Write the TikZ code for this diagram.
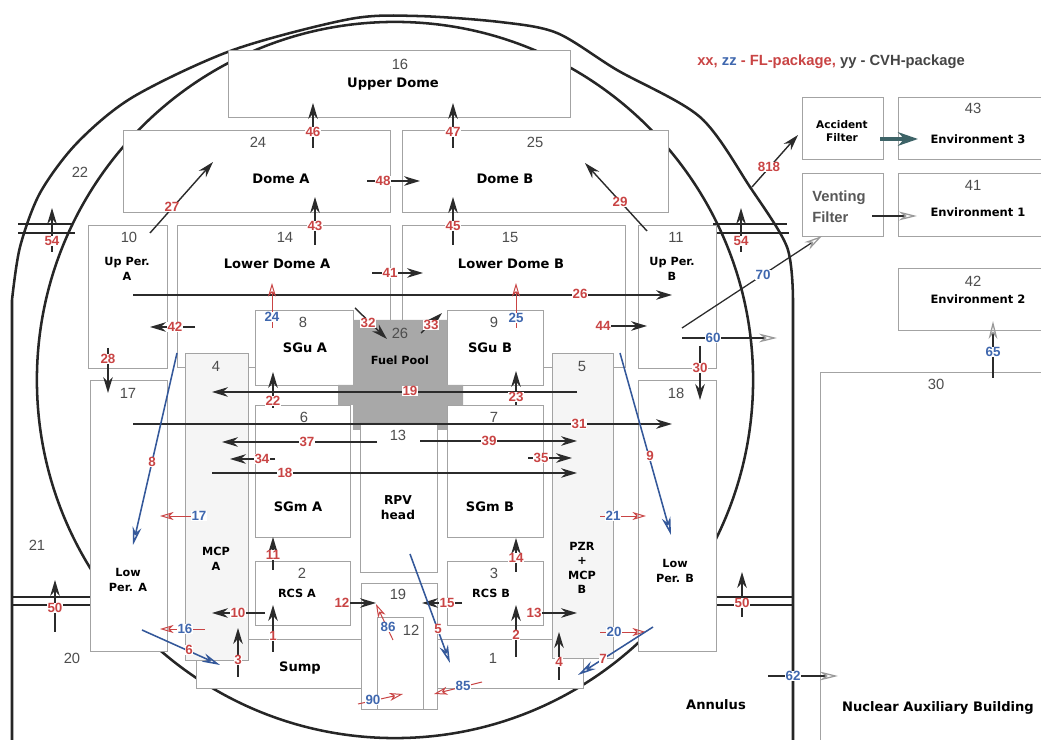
\documentclass[tikz,border=0pt]{standalone}
\usepackage{fontspec}
\setmainfont{DejaVu Sans}
\newfontfamily\arialf{Liberation Sans}
\usepackage{tikz}
\usetikzlibrary{arrows.meta}
\definecolor{redlab}{HTML}{C94444}
\definecolor{bluelab}{HTML}{3F67AE}
\definecolor{blueln}{HTML}{34589A}
\definecolor{roomgray}{HTML}{A3A3A3}
\definecolor{numgray}{HTML}{4D4D4D}
\definecolor{poolgray}{HTML}{A8A8A8}
\definecolor{mcpfill}{HTML}{F5F5F5}
\definecolor{arrowblk}{HTML}{2B2B2B}
\definecolor{headgray}{HTML}{9A9A9A}
\definecolor{filtteal}{HTML}{3D6367}
\definecolor{legdark}{HTML}{454545}

\begin{document}
\begin{tikzpicture}[x=0.025cm,y=-0.025cm,
  wall/.style={line width=1.8pt,black!85},
  room/.style={draw=roomgray,line width=0.6pt,fill=white},
  rnum/.style={font=\arialf\fontsize{10.5}{12}\selectfont,text=numgray,inner sep=0pt},
  rname/.style={font=\bfseries\fontsize{9.3}{11}\selectfont,align=center,inner sep=0pt},
  rsmall/.style={font=\bfseries\fontsize{8}{10.3}\selectfont,align=center,inner sep=0pt},
  envt/.style={font=\bfseries\fontsize{8.2}{9.4}\selectfont,align=center,inner sep=0pt},
  rl/.style={font=\arialf\bfseries\fontsize{9.5}{10}\selectfont,text=redlab,fill=white,inner sep=0.5pt},
  bl/.style={rl,text=bluelab},
  cvh/.style={-{Stealth[length=4mm,width=2.4mm,inset=1.3mm]},line width=1pt,arrowblk},
  flr/.style={-{Stealth[open,length=3.4mm,width=2mm,inset=1mm]},line width=0.7pt,redlab},
  flb/.style={-{Stealth[open,length=4.5mm,width=2.2mm,inset=1.4mm]},line width=1.1pt,blueln},
  flg/.style={-{Stealth[open,length=4.5mm,width=2.2mm,inset=1.4mm,color=headgray]},line width=0.9pt,arrowblk},
]
\useasboundingbox (0,0) rectangle (1042,740);

% containment walls
\draw[wall] (12,740) -- plot[smooth] coordinates {(12,300) (20,247) (40,193) (77,143) (133,97) (233,50) (350,19) (417,16) (500,22) (557,33) (617,70) (700,117) (750,187) (787,247) (793,300)} -- (793,740);
\draw[wall] (395,380) circle[radius=8.95cm];
\draw[wall,line width=1.2pt] (18,224) -- (73,224) (18,233) -- (75,233)
  (713,224) -- (787,224) (713,233) -- (789,233)
  (12,597) -- (90,597) (12,605) -- (90,605)
  (716,597) -- (793,597) (716,605) -- (793,605);

% rooms
\draw[room] (228,50) rectangle (570,117);
\draw[room] (123,130) rectangle (390,212);
\draw[room] (402,130) rectangle (668,212);
\draw[room] (88,225) rectangle (167,368);
\draw[room] (177,225) rectangle (390,367);
\draw[room] (402,225) rectangle (625,367);
\draw[room] (638,225) rectangle (716,368);
\draw[room] (90,380) rectangle (167,651);
\draw[room] (638,380) rectangle (716,651);
\draw[room] (196,639) rectangle (361,688);
\draw[room] (437,639) rectangle (583,688);
\draw[room,fill=mcpfill] (185,353) rectangle (248,660);
\draw[room,fill=mcpfill] (552,353) rectangle (613,658);
\draw[room] (255,310) rectangle (353,385);
\draw[room] (447,310) rectangle (543,385);
\fill[poolgray] (353,320) -- (447,320) -- (447,385) -- (463,385) -- (463,405) -- (447,405)
  -- (447,430) -- (353,430) -- (353,405) -- (338,405) -- (338,385) -- (353,385) -- cycle;
\draw[room] (255,405) rectangle (350,537);
\draw[room] (447,405) rectangle (543,537);
\draw[room] (360,422) rectangle (437,572);
\draw[room] (255,561) rectangle (350,625);
\draw[room] (447,561) rectangle (543,625);
\draw[room] (361,583) rectangle (437,709);
\draw[room] (377,617) rectangle (423,709);
\draw[room] (802,97) rectangle (883,159);
\draw[room] (1041,97) -- (898,97) -- (898,159) -- (1041,159);
\draw[room] (802,173) rectangle (883,236);
\draw[room] (1041,173) -- (898,173) -- (898,236) -- (1041,236);
\draw[room] (1041,268) -- (898,268) -- (898,330) -- (1041,330);
\draw[room,fill=none] (820,740) -- (820,372) -- (1041,372);

% room numbers
\node[rnum] (n16) at (400,64) {16};
\node[rnum] (n24) at (258,142) {24};
\node[rnum] (n25) at (535,142) {25};
\node[rnum] (n22) at (80,172) {22};
\node[rnum] (n10) at (129,237) {10};
\node[rnum] (n14) at (285,237) {14};
\node[rnum] (n15) at (510,237) {15};
\node[rnum] (n11) at (676,237) {11};
\node[rnum] (n8) at (303,322) {8};
\node[rnum] (n26) at (400,333) {26};
\node[rnum] (n9) at (494,322) {9};
\node[rnum] (n4) at (216,366) {4};
\node[rnum] (n5) at (582,366) {5};
\node[rnum] (n17) at (128,393) {17};
\node[rnum] (n18) at (676,393) {18};
\node[rnum] (n6) at (304,417) {6};
\node[rnum] (n7) at (494,417) {7};
\node[rnum] (n13) at (398,435) {13};
\node[rnum] (n2) at (302,573) {2};
\node[rnum] (n3) at (494,573) {3};
\node[rnum] (n19) at (398,594) {19};
\node[rnum] (n12) at (411,630) {12};
\node[rnum] (n1) at (493,658) {1};
\node[rnum] (n20) at (72,658) {20};
\node[rnum] (n21) at (37,545) {21};
\node[rnum] (n30) at (936,384) {30};
\node[rnum] (n43) at (973,108) {43};
\node[rnum] (n41) at (973,185) {41};
\node[rnum] (n42) at (973,281) {42};

% room names
\node[rname] (tUD) at (393,84) {Upper Dome};
\node[rname] (tDA) at (281,179) {Dome A};
\node[rname] (tDB) at (505,179) {Dome B};
\node[rsmall] (tUPA) at (127,269) {Up Per.\\A};
\node[rname] (tLDA) at (277,264) {Lower Dome A};
\node[rname] (tLDB) at (511,264) {Lower Dome B};
\node[rsmall] (tUPB) at (672,269) {Up Per.\\B};
\node[rname] (tSGuA) at (305,348) {SGu A};
\node[rsmall] (tFP) at (400,360) {Fuel Pool};
\node[rname] (tSGuB) at (490,348) {SGu B};
\node[rsmall] (tMCPA) at (216,559) {MCP\\A};
\node[rsmall] (tPZR) at (582,568) {PZR\\+\\MCP\\B};
\node[rsmall] (tLPA) at (128,580) {Low\\Per. A};
\node[rsmall] (tLPB) at (675,571) {Low\\Per. B};
\node[rname] (tSGmA) at (298,507) {SGm A};
\node[rname] (tSGmB) at (490,507) {SGm B};
\node[rsmall,font=\bfseries\fontsize{8.7}{10.6}\selectfont] (tRPV) at (398,508) {RPV\\head};
\node[rsmall] (tRCSA) at (297,593) {RCS A};
\node[rsmall] (tRCSB) at (491,593) {RCS B};
\node[rname] (tSump) at (300,668) {Sump};
\node[rname] (tAnn) at (716,705) {Annulus};
\node[rname] (tNAB) at (938,708) {Nuclear Auxiliary Building};
\node[envt,font=\bfseries\fontsize{7.5}{9.2}\selectfont] (tAF) at (842,131) {Accident\\Filter};
\node[font=\arialf\bfseries\fontsize{10.5}{15}\selectfont,text=legdark!90,align=left,anchor=west,inner sep=0pt] (tVF) at (812,207) {Venting\\Filter};
\node[envt] (tE3) at (978,139) {Environment 3};
\node[envt] (tE1) at (978,212) {Environment 1};
\node[envt] (tE2) at (978,299) {Environment 2};
\node[font=\arialf\bfseries\fontsize{10.5}{12}\selectfont,anchor=west,inner sep=0pt] (legend) at (697,62)
  {\textcolor{redlab}{xx,} \textcolor{bluelab}{zz} \textcolor{redlab}{- FL-package,} \textcolor{legdark}{yy - CVH-package}};

% CVH flow paths
\draw[cvh] (313,148) -- (313,103); \node[rl] (l46) at (313,132) {46};
\draw[cvh] (453,148) -- (453,103); \node[rl] (l47) at (453,132) {47};
\draw[cvh] (315,245) -- (315,197); \node[rl] (l43) at (315,226) {43};
\draw[cvh] (453,245) -- (453,197); \node[rl] (l45) at (453,226) {45};
\draw[cvh] (367,181) -- (420,181); \node[rl] (l48) at (383,181) {48};
\draw[cvh] (150,233) -- (213,162); \node[rl] (l27) at (172,207) {27};
\draw[cvh] (647,231) -- (585,163); \node[rl] (l29) at (620,202) {29};
\draw[cvh] (752,187) -- (798,135); \node[rl] (l818) at (769,167) {818};
\draw[cvh] (52,252) -- (52,208); \node[rl] (l54a) at (52,241) {54};
\draw[cvh] (741,252) -- (741,208); \node[rl] (l54b) at (741,241) {54};
\draw[cvh] (372,273) -- (423,273); \node[rl] (l41) at (390,273) {41};
\draw[cvh] (133,295) -- (672,295); \node[rl] (l26) at (580,294) {26};
\draw[cvh] (195,327) -- (150,327); \node[rl] (l42) at (175,327) {42};
\draw[cvh] (606,326) -- (647,326); \node[rl] (l44) at (603,326) {44};
\draw[cvh] (355,308) -- (387,339); \node[rl] (l32) at (368,323) {32};
\draw[cvh] (421,333) -- (442,313); \node[rl] (l33) at (431,325) {33};
\draw[cvh] (108,348) -- (108,393); \node[rl] (l28) at (108,359) {28};
\draw[cvh] (700,346) -- (700,400); \node[rl] (l30) at (700,368) {30};
\draw[cvh] (577,392) -- (212,392); \node[rl] (l19) at (410,391) {19};
\draw[cvh] (273,408) -- (273,372); \node[rl] (l22) at (273,401) {22};
\draw[cvh] (516,405) -- (516,371); \node[rl] (l23) at (516,397) {23};
\draw[cvh] (133,424) -- (672,424); \node[rl] (l31) at (579,424) {31};
\draw[cvh] (377,442) -- (222,442); \node[rl] (l37) at (307,442) {37};
\draw[cvh] (420,441) -- (577,441); \node[rl] (l39) at (489,441) {39};
\draw[cvh] (275,459) -- (230,459); \node[rl] (l34) at (262,459) {34};
\draw[cvh] (528,458) -- (572,458); \node[rl] (l35) at (541,458) {35};
\draw[cvh] (212,473) -- (577,473); \node[rl] (l18) at (285,473) {18};
\draw[cvh] (273,570) -- (273,537); \node[rl] (l11) at (273,555) {11};
\draw[cvh] (516,572) -- (516,538); \node[rl] (l14) at (516,558) {14};
\draw[cvh] (265,613) -- (212,613); \node[rl] (l10) at (238,613) {10};
\draw[cvh] (348,603) -- (376,603); \node[rl] (l12) at (342,603) {12};
\draw[cvh] (462,603) -- (422,603); \node[rl] (l15) at (447,603) {15};
\draw[cvh] (542,613) -- (577,613); \node[rl] (l13) at (534,613) {13};
\draw[cvh] (273,652) -- (273,605); \node[rl] (l1) at (273,636) {1};
\draw[cvh] (516,657) -- (516,605); \node[rl] (l2) at (516,635) {2};
\draw[cvh] (238,677) -- (238,628); \node[rl] (l3) at (238,660) {3};
\draw[cvh] (559,680) -- (559,632); \node[rl] (l4) at (559,662) {4};
\draw[cvh] (55,632) -- (55,580); \node[rl] (l50a) at (55,608) {50};
\draw[cvh] (742,617) -- (742,572); \node[rl] (l50b) at (742,603) {50};
\draw[-{Stealth[length=5mm,width=3.4mm,inset=1.6mm]},line width=2.4pt,filtteal] (880,139) -- (918,139);

% FL flow paths
\draw[flr] (272,328) -- (272,283); \node[bl] (l24) at (272,317) {24};
\draw[flr] (516,328) -- (516,283); \node[bl] (l25) at (516,318) {25};
\draw[flr] (192,516) -- (160,516); \node[bl] (l17) at (199,516) {17};
\draw[flr] (205,629) -- (160,629); \node[bl] (l16) at (185,629) {16};
\draw[flr] (600,516) -- (646,516); \node[bl] (l21) at (613,516) {21};
\draw[flr] (600,632) -- (646,632); \node[bl] (l20) at (614,632) {20};
\draw[flr] (482,682) -- (434,694); \node[bl] (l85) at (463,686) {85};
\draw[flr] (358,704) -- (403,694); \node[bl] (l90) at (373,700) {90};
\draw[flr] (393,640) -- (376,604); \node[bl] (l86) at (388,627) {86};
\draw[flb] (177,353) -- (133,545); \node[rl] (l8) at (152,462) {8};
\draw[flb] (620,353) -- (671,535); \node[rl] (l9) at (650,456) {9};
\draw[flb] (410,554) -- (450,663); \node[rl] (l5) at (438,629) {5};
\draw[flb] (142,630) -- (220,665); \node[rl] (l6) at (189,650) {6};
\draw[flb] (653,627) -- (578,675); \node[rl] (l7) at (603,659) {7};
\draw[flg] (682,338) -- (777,338); \node[bl] (l60) at (713,338) {60};
\draw[flg] (768,676) -- (838,676); \node[bl] (l62) at (793,676) {62};
\draw[flg] (682,328) -- (822,236); \node[bl] (l70) at (763,275) {70};
\draw[flg] (993,378) -- (993,321); \node[bl] (l65) at (993,352) {65};
\draw[flg] (872,216) -- (917,216);
\end{tikzpicture}
\end{document}
